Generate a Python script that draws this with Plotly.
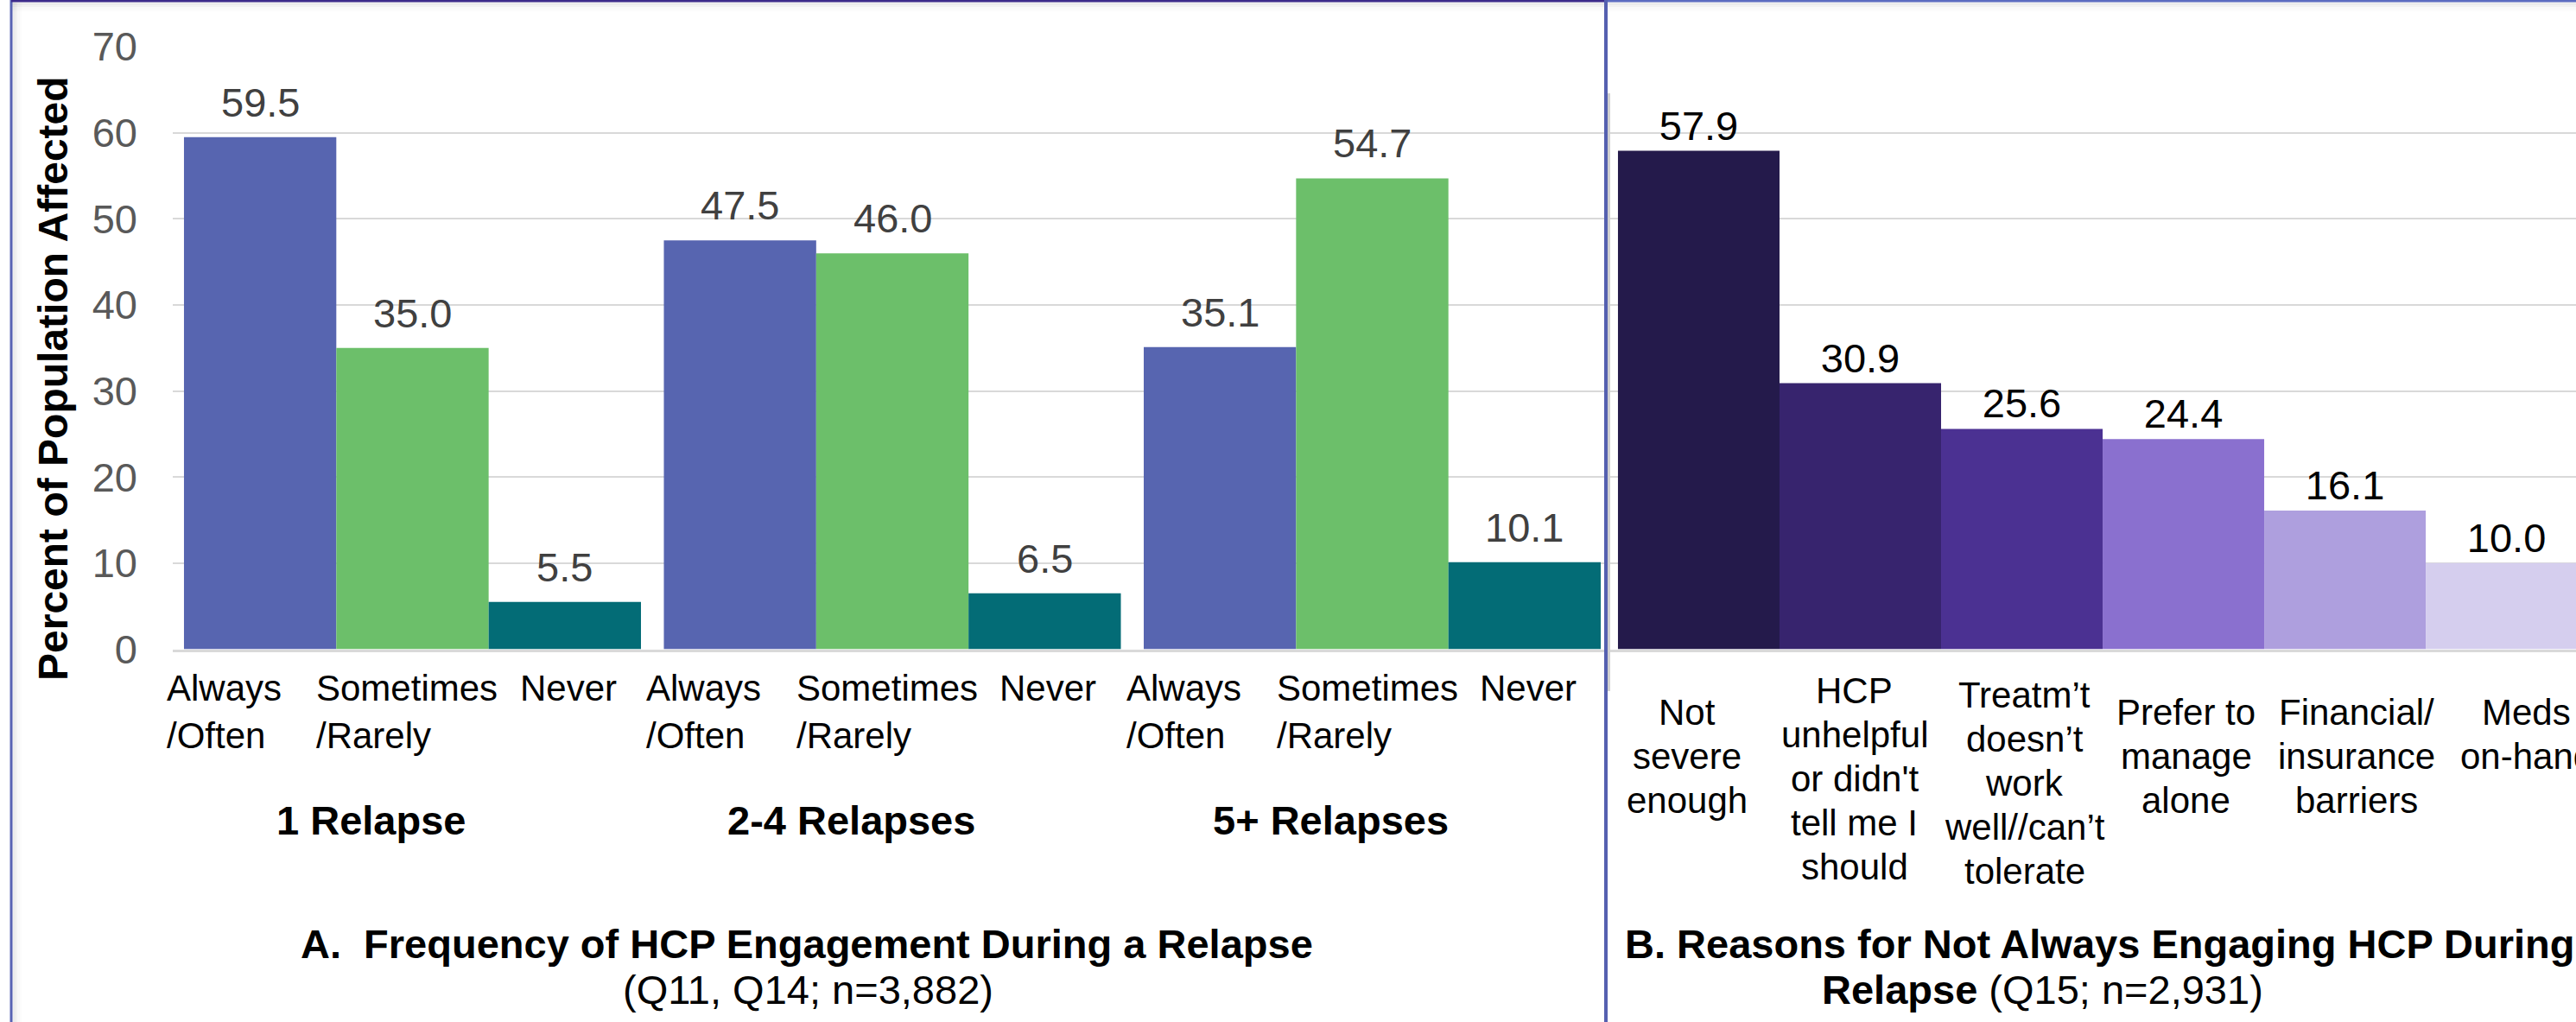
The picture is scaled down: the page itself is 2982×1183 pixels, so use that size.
import plotly.graph_objects as go

# ---- data -------------------------------------------------------------
relapse_groups = ["1 Relapse", "2-4 Relapses", "5+ Relapses"]
engagement_levels = ["Always<br>/Often", "Sometimes<br>/Rarely", "Never"]
always_often = [59.5, 47.5, 35.1]
sometimes_rarely = [35.0, 46.0, 54.7]
never = [5.5, 6.5, 10.1]

reasons = [
    "Not<br>severe<br>enough",
    "HCP<br>unhelpful<br>or didn't<br>tell me I<br>should",
    "Treatm\u2019t<br>doesn\u2019t<br>work<br>well//can\u2019t<br>tolerate",
    "Prefer to<br>manage<br>alone",
    "Financial/<br>insurance<br>barriers",
    "Meds<br>on-hand",
]
reason_pct = [57.9, 30.9, 25.6, 24.4, 16.1, 10.0]

y_ticks = [0, 10, 20, 30, 40, 50, 60, 70]

# ---- styling ----------------------------------------------------------
W, H = 2982, 1183
FONT = "Liberation Sans, Arial, sans-serif"
BARGAP = 0.0477
level_colors = ["#5765B0", "#6CBF6A", "#036C76"]
reason_colors = ["#241A4B", "#37246E", "#4B3192", "#8A70CF", "#AE9FDE", "#D5CEEE"]
GRID = "#D9D9D9"


def px(x):
    return x / W


def py(y):
    return 1 - y / H


fig = go.Figure()
annotations = []

# Panel A: grouped bars by relapse count, value labels sit a little above each bar
bar_w = (1 - BARGAP) / len(engagement_levels)
series_a = [always_often, sometimes_rarely, never]
for k, (name, vals, col) in enumerate(zip(engagement_levels, series_a, level_colors)):
    fig.add_trace(go.Bar(
        x=relapse_groups, y=vals, name=name.replace("<br>", " "),
        marker=dict(color=col, line=dict(width=0)),
        hoverinfo="x+y", xaxis="x", yaxis="y",
    ))
    for gi, v in enumerate(vals):
        annotations.append(dict(
            x=gi + (k - 1) * bar_w, xref="x", y=v, yref="y",
            text=f"{v:.1f}", showarrow=False, xanchor="center",
            yanchor="bottom", yshift=12,
            font=dict(family=FONT, size=47, color="#404040"),
        ))

# Panel B: adjacent bars for reasons
fig.add_trace(go.Bar(
    x=reasons, y=reason_pct, width=[1.0] * len(reasons),
    marker=dict(color=reason_colors, line=dict(width=0)),
    text=[f"{v:.1f}" for v in reason_pct], textposition="outside",
    textfont=dict(family=FONT, size=47, color="#000000"),
    cliponaxis=False, xaxis="x2", yaxis="y2",
))

# Category labels under panel A bars
level_nudge = [-42, -6, 4]
for gi, grp in enumerate(relapse_groups):
    for k, lvl in enumerate(engagement_levels):
        annotations.append(dict(
            x=gi + (k - 1) * bar_w, xref="x", y=py(771), yref="paper",
            text=lvl, showarrow=False, xanchor="center", yanchor="top",
            align="left", xshift=level_nudge[k],
            font=dict(family=FONT, size=42, color="#000000"),
        ))
    annotations.append(dict(
        x=gi, xref="x", y=py(921), yref="paper", text=f"<b>{grp}</b>",
        showarrow=False, xanchor="center", yanchor="top", xshift=-48,
        font=dict(family=FONT, size=47, color="#000000"),
    ))

# Category labels under panel B bars (one line at a time for tighter leading)
reason_top = [799, 774, 779, 799, 799, 799]
reason_nudge = [-13, -7, 3, 3, 13, 23]
LEADING = 51
for i, lab in enumerate(reasons):
    for j, line in enumerate(lab.split("<br>")):
        annotations.append(dict(
            x=i, xref="x2", y=py(reason_top[i] + j * LEADING), yref="paper",
            text=line, showarrow=False, xanchor="center", yanchor="top",
            xshift=reason_nudge[i],
            font=dict(family=FONT, size=42, color="#000000"),
        ))

# Axis title and panel titles
annotations += [
    dict(x=px(61), y=py(438), xref="paper", yref="paper", textangle=-90,
         text="<b>Percent of Population Affected</b>", showarrow=False,
         xanchor="center", yanchor="middle",
         font=dict(family=FONT, size=48, color="#000000")),
    dict(x=px(934), y=py(1064), xref="paper", yref="paper",
         text="<b>A.&nbsp; Frequency of HCP Engagement During a Relapse</b>",
         showarrow=False, xanchor="center", yanchor="top",
         font=dict(family=FONT, size=47, color="#000000")),
    dict(x=px(935), y=py(1117), xref="paper", yref="paper",
         text="(Q11, Q14; n=3,882)", showarrow=False,
         xanchor="center", yanchor="top",
         font=dict(family=FONT, size=47, color="#000000")),
    dict(x=px(1879), y=py(1064), xref="paper", yref="paper",
         text="<b>B. Reasons for Not Always Engaging HCP During a</b>",
         showarrow=False, xanchor="left", yanchor="top",
         font=dict(family=FONT, size=47, color="#000000")),
    dict(x=px(2107), y=py(1117), xref="paper", yref="paper",
         text="<b>Relapse</b> (Q15; n=2,931)", showarrow=False,
         xanchor="left", yanchor="top",
         font=dict(family=FONT, size=47, color="#000000")),
]

# Panel frames, divider and soft shadows
shapes = []
for i, a in enumerate([0.07, 0.045, 0.025, 0.012]):
    shapes.append(dict(type="line", xref="paper", yref="paper",
                       x0=px(13), x1=1, y0=py(4 + 2.5 * i), y1=py(4 + 2.5 * i),
                       line=dict(color=f"rgba(0,0,0,{a})", width=3)))
    shapes.append(dict(type="line", xref="paper", yref="paper",
                       x0=px(16 + 2.5 * i), x1=px(16 + 2.5 * i), y0=0, y1=py(3),
                       line=dict(color=f"rgba(0,0,0,{a})", width=3)))
shapes += [
    dict(type="line", xref="paper", yref="paper", x0=px(13), x1=px(13), y0=0, y1=1,
         line=dict(color="#5863B3", width=3)),
    dict(type="line", xref="paper", yref="paper", x0=px(13), x1=px(1859), y0=py(1), y1=py(1),
         line=dict(color="#3C2A8A", width=3)),
    dict(type="line", xref="paper", yref="paper", x0=px(1859), x1=1, y0=py(1), y1=py(1),
         line=dict(color="#5C6BC0", width=3)),
    dict(type="line", xref="paper", yref="paper", x0=px(1862.5), x1=px(1862.5),
         y0=py(108), y1=py(800), line=dict(color="#D0D0D0", width=3)),
    dict(type="line", xref="paper", yref="paper", x0=px(1859), x1=px(1859), y0=0, y1=1,
         line=dict(color="#5560B0", width=4)),
]

y_dom = [py(751.5), py(54)]
fig.update_layout(
    width=W, height=H, margin=dict(l=0, r=0, t=0, b=0, pad=0, autoexpand=False),
    paper_bgcolor="white", plot_bgcolor="white",
    barmode="group", bargap=BARGAP, bargroupgap=0, showlegend=False,
    font=dict(family=FONT),
    xaxis=dict(domain=[px(200), px(1861)], range=[-0.4995, 2.4905],
               showticklabels=False, ticks="", showgrid=False, zeroline=False,
               showline=True, linecolor=GRID, linewidth=3, anchor="y",
               automargin=False),
    yaxis=dict(domain=y_dom, range=[0, 70], tickvals=y_ticks, ticks="",
               showgrid=True, gridcolor=GRID, gridwidth=2, zeroline=False,
               showline=False, ticklabelstandoff=40, anchor="x",
               automargin=False,
               tickfont=dict(family=FONT, size=47, color="#595959")),
    xaxis2=dict(domain=[px(1861), 1], range=[-0.564, 5.43],
                showticklabels=False, ticks="", showgrid=False, zeroline=False,
                showline=True, linecolor=GRID, linewidth=3, anchor="y2",
                automargin=False),
    yaxis2=dict(domain=y_dom, range=[0, 70], tickvals=y_ticks, matches="y",
                showticklabels=False, ticks="", showgrid=True, gridcolor=GRID,
                gridwidth=2, zeroline=False, showline=False, anchor="x2",
                automargin=False),
    annotations=annotations, shapes=shapes,
)

fig.write_html("out.html")
